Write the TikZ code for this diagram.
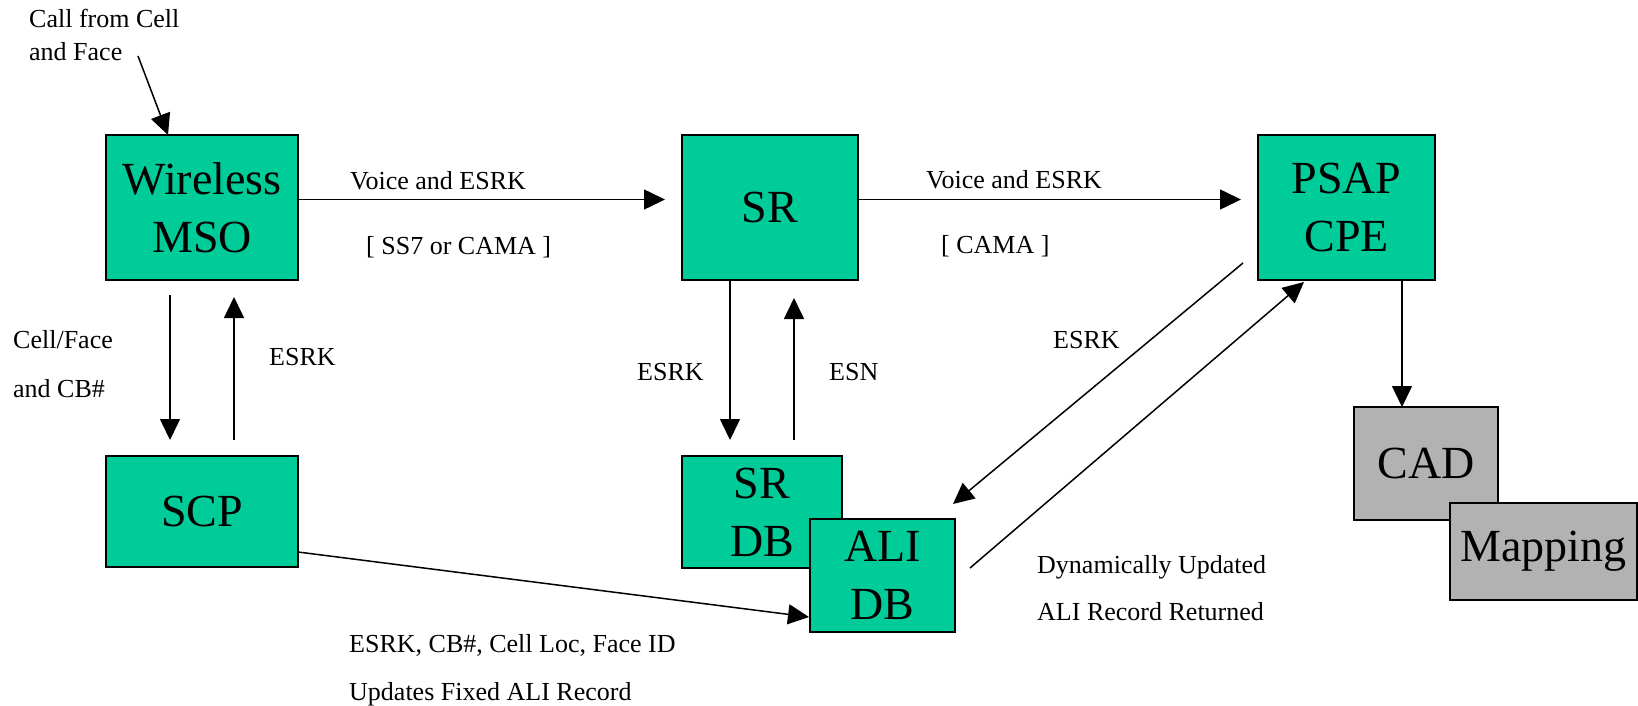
\documentclass[tikz,border=0pt]{standalone}
\usepackage{fontspec}
\setmainfont{Liberation Serif}
\usetikzlibrary{arrows.meta,calc}
\definecolor{boxgreen}{HTML}{00CC99}
\definecolor{boxgrey}{HTML}{B2B2B2}
\begin{document}
\begin{tikzpicture}[x=1pt,y=-1pt,
  box/.style={draw=black,line width=1.5pt,fill=boxgreen,inner sep=0pt,outer sep=0pt,align=center,font=\fontsize{46}{58}\selectfont},
  greybox/.style={box,fill=boxgrey},
  lbl/.style={inner sep=0pt,anchor=base west,font=\fontsize{26}{30}\selectfont},
  conn/.style={line width=1.5pt,-{Triangle[length=21pt,width=20pt]}}]
\useasboundingbox (0,0) rectangle (1638,706);

% boxes
\node[box,minimum width=192pt,minimum height=145pt] (mso) at (202,207.5) {Wireless\\MSO};
\node[box,minimum width=176pt,minimum height=145pt] (sr) at (770,207.5) {SR};
\node[box,minimum width=177pt,minimum height=145pt] (psap) at (1346.5,207.5) {PSAP\\CPE};
\node[box,minimum width=192pt,minimum height=111pt] (scp) at (202,511.5) {SCP};
\node[box,minimum width=160pt,minimum height=112pt] (srdb) at (762,512) {SR\\DB};
\node[box,minimum width=145pt,minimum height=113pt] (alidb) at (882.5,575.5) {ALI\\DB};
\node[greybox,minimum width=144pt,minimum height=113pt] (cad) at (1426,463.5) {CAD};
\node[greybox,minimum width=187pt,minimum height=97pt] (mapping) at (1543.5,551.5) {Mapping};

% labels
\node[lbl] (lcall1) at (29,28) {Call from Cell};
\node[lbl] (lcall2) at (29,61) {and Face};
\node[lbl] (lv1) at (350,189) {Voice and ESRK};
\node[lbl] (lss7) at (366,254) {[ SS7 or CAMA ]};
\node[lbl] (lv2) at (926,188) {Voice and ESRK};
\node[lbl] (lcama) at (941,253) {[ CAMA ]};
\node[lbl] (lcf1) at (13,348) {Cell/Face};
\node[lbl] (lcf2) at (13,397) {and CB\#};
\node[lbl] (lesrk1) at (269,365) {ESRK};
\node[lbl] (lesrk2) at (637,380) {ESRK};
\node[lbl] (lesn) at (829,380) {ESN};
\node[lbl] (lesrk3) at (1053,348) {ESRK};
\node[lbl] (ldyn1) at (1037,573) {Dynamically Updated};
\node[lbl] (ldyn2) at (1037,620) {ALI Record Returned};
\node[lbl] (lupd1) at (349,652) {ESRK, CB\#, Cell Loc, Face ID};
\node[lbl] (lupd2) at (349,700) {Updates Fixed ALI Record};

% connectors
\coordinate (callsrc) at (138,56);
\draw[conn] (callsrc) -- ($(mso.north)+(-34,0)$);
\draw[conn,shorten >=17pt] ($(mso.east)+(0,-8)$) -- ($(sr.west)+(0,-8)$);
\draw[conn,shorten >=17pt] ($(sr.east)+(0,-8)$) -- ($(psap.west)+(0,-8)$);
\draw[conn] ($(mso.south)+(-32,15)$) -- ($(mso.south |- scp.north)+(-32,-16)$);
\draw[conn] ($(mso.south |- scp.north)+(32,-16)$) -- ($(mso.south)+(32,17)$);
\draw[conn] ($(sr.south)+(-40,0)$) -- ($(sr.south |- srdb.north)+(-40,-16)$);
\draw[conn] ($(sr.south |- srdb.north)+(24,-16)$) -- ($(sr.south)+(24,18)$);
\draw[conn] ($(psap.south west)+(-15,-17)$) -- ($(alidb.north east)+(-2,-15)$);
\draw[conn] ($(alidb.north east)+(15,49)$) -- ($(psap.south west)+(46,2)$);
\draw[conn] ($(scp.east)+(0,40.5)$) -- ($(alidb.west)+(-1,41.5)$);
\draw[conn] ($(psap.south)+(55.5,0)$) -- ($(psap.south |- cad.north)+(55.5,0)$);
\end{tikzpicture}
\end{document}
